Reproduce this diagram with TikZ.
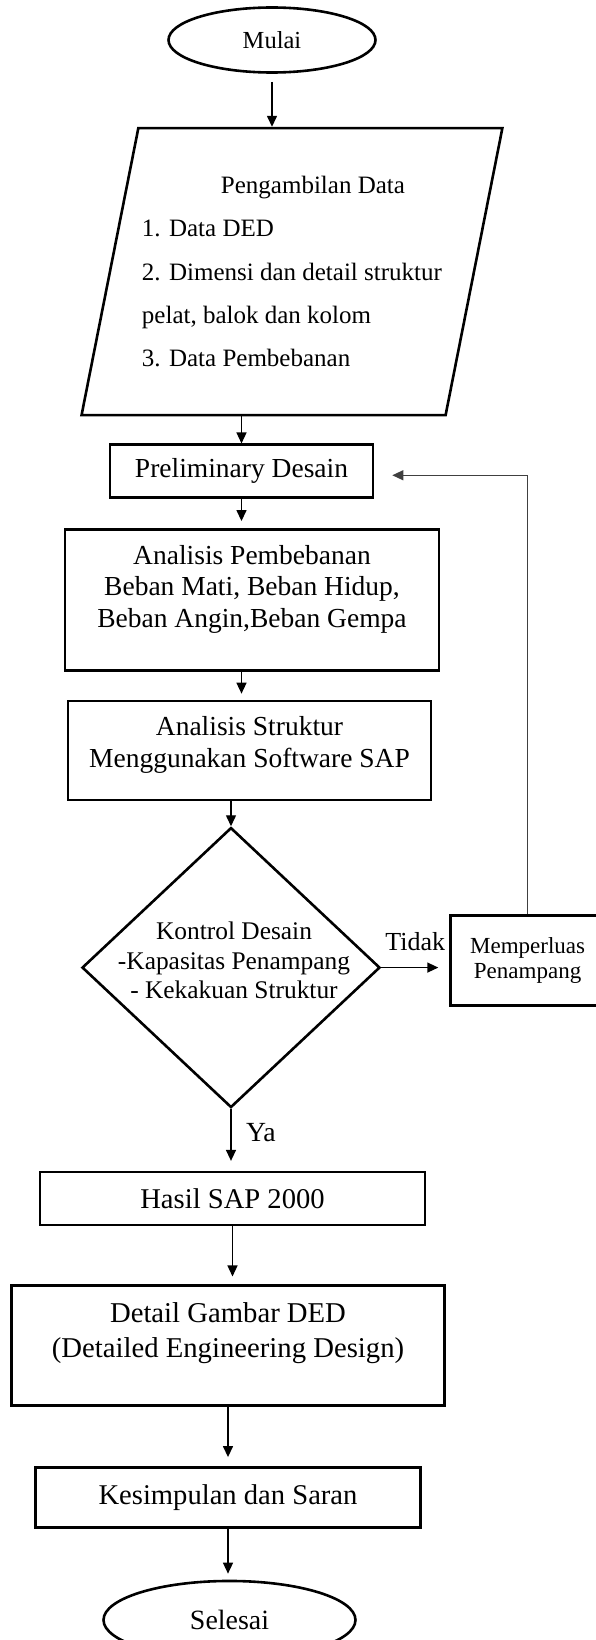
\documentclass[tikz,border=0pt]{standalone}
\usepackage{fontspec}
\setmainfont{Liberation Serif}
\usepackage{tikz}
\usetikzlibrary{calc, positioning, arrows.meta, shapes.geometric}

\begin{document}
\begin{tikzpicture}[node distance=25pt, auto]
    % Area of the figure
    \useasboundingbox (0,0) rectangle (595pt,-1640pt);

    % Styles
    \tikzstyle{terminal} = [ellipse, draw, line width=2.6pt, text centered]
    \tikzstyle{io_block} = [trapezium, trapezium left angle=74, trapezium right angle=106, trapezium stretches=true, draw, line width=2.6pt, align=left, font=\fontsize{25}{43.3}\selectfont]
    \tikzstyle{block} = [rectangle, draw, line width=2.6pt, align=center, font=\fontsize{27.5}{32}\selectfont]
    \tikzstyle{block_text} = [align=center, font=\fontsize{27.5}{32}\selectfont]
    \tikzstyle{decision} = [diamond, draw, line width=2.6pt, inner sep=0pt]
    \tikzstyle{small_block} = [rectangle, draw, line width=2.6pt, align=center, font=\fontsize{23}{25}\selectfont]
    \tikzstyle{line} = [draw, line width=1.4pt, -{Triangle[length=11pt, width=10pt]}]
    \tikzstyle{back_line} = [draw, line width=1.1pt, color=black!75, -{Triangle[length=11pt, width=10pt]}]

    % Main column
    \node [terminal, minimum width=207pt, minimum height=65pt, font=\fontsize{24.5}{28}\selectfont] (mulai) at (272pt,-40pt) {Mulai};
    \node [io_block, below=53pt of mulai, xshift=20pt, minimum width=421pt, minimum height=287pt] (data) {\hspace*{79pt}Pengambilan Data\\1. Data DED\\2. Dimensi dan detail struktur\\pelat, balok dan kolom\\3. Data Pembebanan};
    \node [block, below=27pt of data, xshift=-50.5pt, minimum width=263pt, minimum height=53pt] (prelim) {Preliminary Desain};
    \node [block, below=29pt of prelim, xshift=10.5pt, minimum width=374pt, minimum height=141pt] (analisis) {};
    \node [block_text, font=\fontsize{27.5}{31.5}\selectfont] (analisis_text) at ([yshift=10.5pt]analisis.center) {Analisis Pembebanan\\Beban Mati, Beban Hidup,\\Beban Angin,Beban Gempa};
    \node [block, below=28pt of analisis, xshift=-2.5pt, minimum width=363pt, minimum height=99pt] (struktur) {};
    \node [block_text] (struktur_text) at ([yshift=6pt]struktur.center) {Analisis Struktur\\Menggunakan Software SAP};
    \node [decision, below=25pt of struktur, xshift=-18.5pt, minimum width=298pt, minimum height=280pt] (cond) {};
    \node [align=center, font=\fontsize{25.4}{29.5}\selectfont] (cond_text) at ([xshift=3pt, yshift=7pt]cond.center) {Kontrol Desain\\-Kapasitas Penampang\\- Kekakuan Struktur};
    \node [small_block, right=68pt of cond, yshift=7pt, minimum width=154pt, minimum height=90pt] (memp) {Memperluas\\Penampang};
    \node [block, below=62pt of cond, xshift=1.5pt, minimum width=385pt, minimum height=53pt, font=\fontsize{28.6}{33}\selectfont] (hasil) {Hasil SAP 2000};
    \node [block, below=58pt of hasil, xshift=-4.5pt, minimum width=433pt, minimum height=120pt] (detail) {};
    \node [block_text, font=\fontsize{28.7}{35}\selectfont] (detail_text) at ([yshift=13pt]detail.center) {Detail Gambar DED\\(Detailed Engineering Design)};
    \node [block, below=59pt of detail, minimum width=385pt, minimum height=60pt, font=\fontsize{28.6}{33}\selectfont] (kesimpulan) {Kesimpulan dan Saran};
    \node [terminal, below=51pt of kesimpulan, xshift=1.5pt, minimum width=252pt, minimum height=78pt, font=\fontsize{27.9}{32}\selectfont] (selesai) {Selesai};

    % End of the way back
    \coordinate (back) at ([xshift=18pt, yshift=-4pt]prelim.east);

    % Connectors
    \path [line, shorten <=8pt] (mulai.south) -- (mulai.south |- data.north);
    \path [line] (prelim.north |- data.south) -- (prelim.north);
    \path [line, shorten >=7pt] (prelim.south) -- (prelim.south |- analisis.north);
    \path [line, shorten >=6pt] (prelim.south |- analisis.south) -- (prelim.south |- struktur.north);
    \path [line] (cond.north |- struktur.south) -- (cond.north);
    \path [line, shorten >=10pt] (cond.south) -- node [pos=0.38, right=11pt, font=\fontsize{27.7}{32}\selectfont] (lbl_ya) {Ya} (cond.south |- hasil.north);
    \path [line, shorten >=8pt] (hasil.south) -- (hasil.south |- detail.north);
    \path [line, shorten >=9pt] (kesimpulan.north |- detail.south) -- (kesimpulan.north);
    \path [line, shorten >=6pt] (kesimpulan.south) -- (kesimpulan.south |- selesai.north);

    % No: enlarge the section and go back
    \path [line, shorten >=11pt] (cond.east) -- node [above=12pt, inner sep=4pt, font=\fontsize{26}{30}\selectfont] (lbl_tidak) {Tidak} (cond.east -| memp.west);
    \path [back_line] (memp.north) |- (back);
\end{tikzpicture}
\end{document}
